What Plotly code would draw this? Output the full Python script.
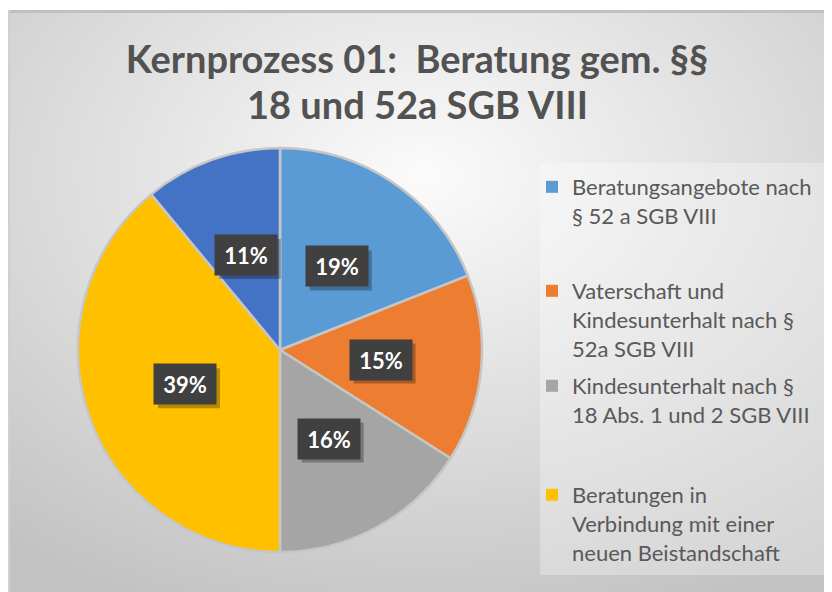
import base64
import math
import plotly.graph_objects as go

# ---- data ----
categories = [
    "Beratungsangebote nach<br>§ 52 a SGB VIII",
    "Vaterschaft und<br>Kindesunterhalt nach §<br>52a SGB VIII",
    "Kindesunterhalt nach §<br>18 Abs. 1 und 2 SGB VIII",
    "Beratungen in<br>Verbindung mit einer<br>neuen Beistandschaft",
    "Weitere Beratungen",
]
values = [19, 15, 16, 39, 11]
legend_shown = [True, True, True, True, False]
colors = ["#5B9BD5", "#ED7D31", "#A5A5A5", "#FFC000", "#4472C4"]
title_line1 = "Kernprozess 01: \u00a0Beratung gem. §§"
title_line2 = "18 und 52a SGB VIII"

W, H = 832, 592
OX, OY = 8, 8  # page offset of the plot div (body margin)


def fx(px):  # reference pixel x -> paper x
    return (px - OX) / W


def fy(py):  # reference pixel y -> paper y
    return 1 - (py - OY) / H


# pie geometry (reference pixels)
cx, cy, r = 280, 350, 202
dom_x = [fx(cx - r), fx(cx + r)]
dom_y = [fy(cy + r), fy(cy - r)]

fig = go.Figure()
fig.add_trace(go.Pie(
    labels=[c.replace("<br>", " ") for c in categories],
    values=values,
    sort=False,
    direction="clockwise",
    rotation=0,
    marker=dict(colors=colors, line=dict(color="#C6C6C6", width=2.5)),
    textinfo="none",
    showlegend=False,
    domain=dict(x=dom_x, y=dom_y),
    hoverinfo="label+percent",
))

# legend entries (separate legends so spacing matches)
legend_names = ["legend", "legend2", "legend3", "legend4"]
legend_first_line = [186, 290, 385, 494]
k = 0
for name, col, show in zip(categories, colors, legend_shown):
    if not show:
        continue
    fig.add_trace(go.Scatter(
        x=[None], y=[None], mode="markers", name=name,
        marker=dict(symbol="square", size=12, color=col),
        legend=legend_names[k], showlegend=True,
    ))
    k += 1

legend_common = dict(
    font=dict(family="Lato", size=22, color="#595959"),
    bgcolor="rgba(0,0,0,0)", itemwidth=30, valign="top",
    xanchor="left", yanchor="top", tracegroupgap=0,
)
layout_legends = {}
for ln, yc in zip(legend_names, legend_first_line):
    layout_legends[ln] = dict(x=fx(532), y=fy(yc - 20), **legend_common)

# data labels (dark boxes with a soft shadow)
BOX_W, BOX_H, PAD = 44, 22, 9
total = sum(values)
annotations = []
shapes = [dict(type="rect", xref="paper", yref="paper",
               x0=fx(540), x1=fx(826), y0=fy(575), y1=fy(163),
               fillcolor="rgba(255,255,255,0.3)", line=dict(width=0), layer="below")]
cum = 0
for v in values:
    mid = (cum + v / 2) / total * 2 * math.pi
    cum += v
    px = cx + 0.5 * r * math.sin(mid)
    py = cy - 0.5 * r * math.cos(mid)
    txt = f"{round(v / total * 100)}%"
    hw, hh = BOX_W / 2 + PAD, BOX_H / 2 + PAD
    shapes.append(dict(type="rect", xref="paper", yref="paper",
                       x0=fx(px - hw + 4), x1=fx(px + hw + 4),
                       y0=fy(py + hh + 4), y1=fy(py - hh + 4),
                       fillcolor="rgba(0,0,0,0.28)", line=dict(width=0), layer="above"))
    annotations.append(dict(x=fx(px), y=fy(py), xref="paper", yref="paper",
                            xanchor="center", yanchor="middle",
                            showarrow=False, text=txt, borderpad=PAD,
                            width=BOX_W, height=BOX_H, align="center", valign="middle",
                            font=dict(family="Lato", size=22, color="white", weight="bold"),
                            bgcolor="#404040"))

# second title line
annotations.append(dict(text=title_line2, x=fx(417), y=fy(104), xref="paper", yref="paper",
                        xanchor="center", yanchor="middle", showarrow=False,
                        font=dict(family="Lato", size=38, color="#525252", weight="bold")))

fw, fh = W, H
svg = f'''<svg xmlns="http://www.w3.org/2000/svg" width="{fw}" height="{fh}" viewBox="0 0 {fw} {fh}">
<defs><radialGradient id="g" cx="50%" cy="28%" r="80%" fx="50%" fy="28%">
<stop offset="0" stop-color="#FBFBFB"/><stop offset="0.55" stop-color="#DCDCDC"/><stop offset="1" stop-color="#C2C2C2"/>
</radialGradient></defs>
<rect x="0" y="0" width="{fw}" height="{fh}" fill="#FFFFFF"/>
<rect x="0" y="2" width="{fw}" height="{fh-2}" fill="url(#g)"/>
<rect x="0" y="2" width="{fw}" height="3" fill="#C0C0C0"/>
<rect x="0" y="2" width="2" height="{fh-2}" fill="#D0D0D0"/>
</svg>'''
src = "data:image/svg+xml;base64," + base64.b64encode(svg.encode()).decode()

fig.update_layout(
    width=W, height=H,
    margin=dict(l=0, r=0, t=0, b=0),
    paper_bgcolor="white",
    plot_bgcolor="rgba(0,0,0,0)",
    title=dict(text=title_line1, x=fx(417), xanchor="center", y=fy(60), yanchor="middle",
               font=dict(family="Lato", size=38, color="#525252", weight="bold")),
    xaxis=dict(visible=False), yaxis=dict(visible=False),
    images=[dict(source=src, xref="paper", yref="paper", x=0, y=1, sizex=1, sizey=1,
                 sizing="stretch", layer="below", xanchor="left", yanchor="top")],
    shapes=shapes,
    annotations=annotations,
    **layout_legends,
)

fig.write_html("out.html")
